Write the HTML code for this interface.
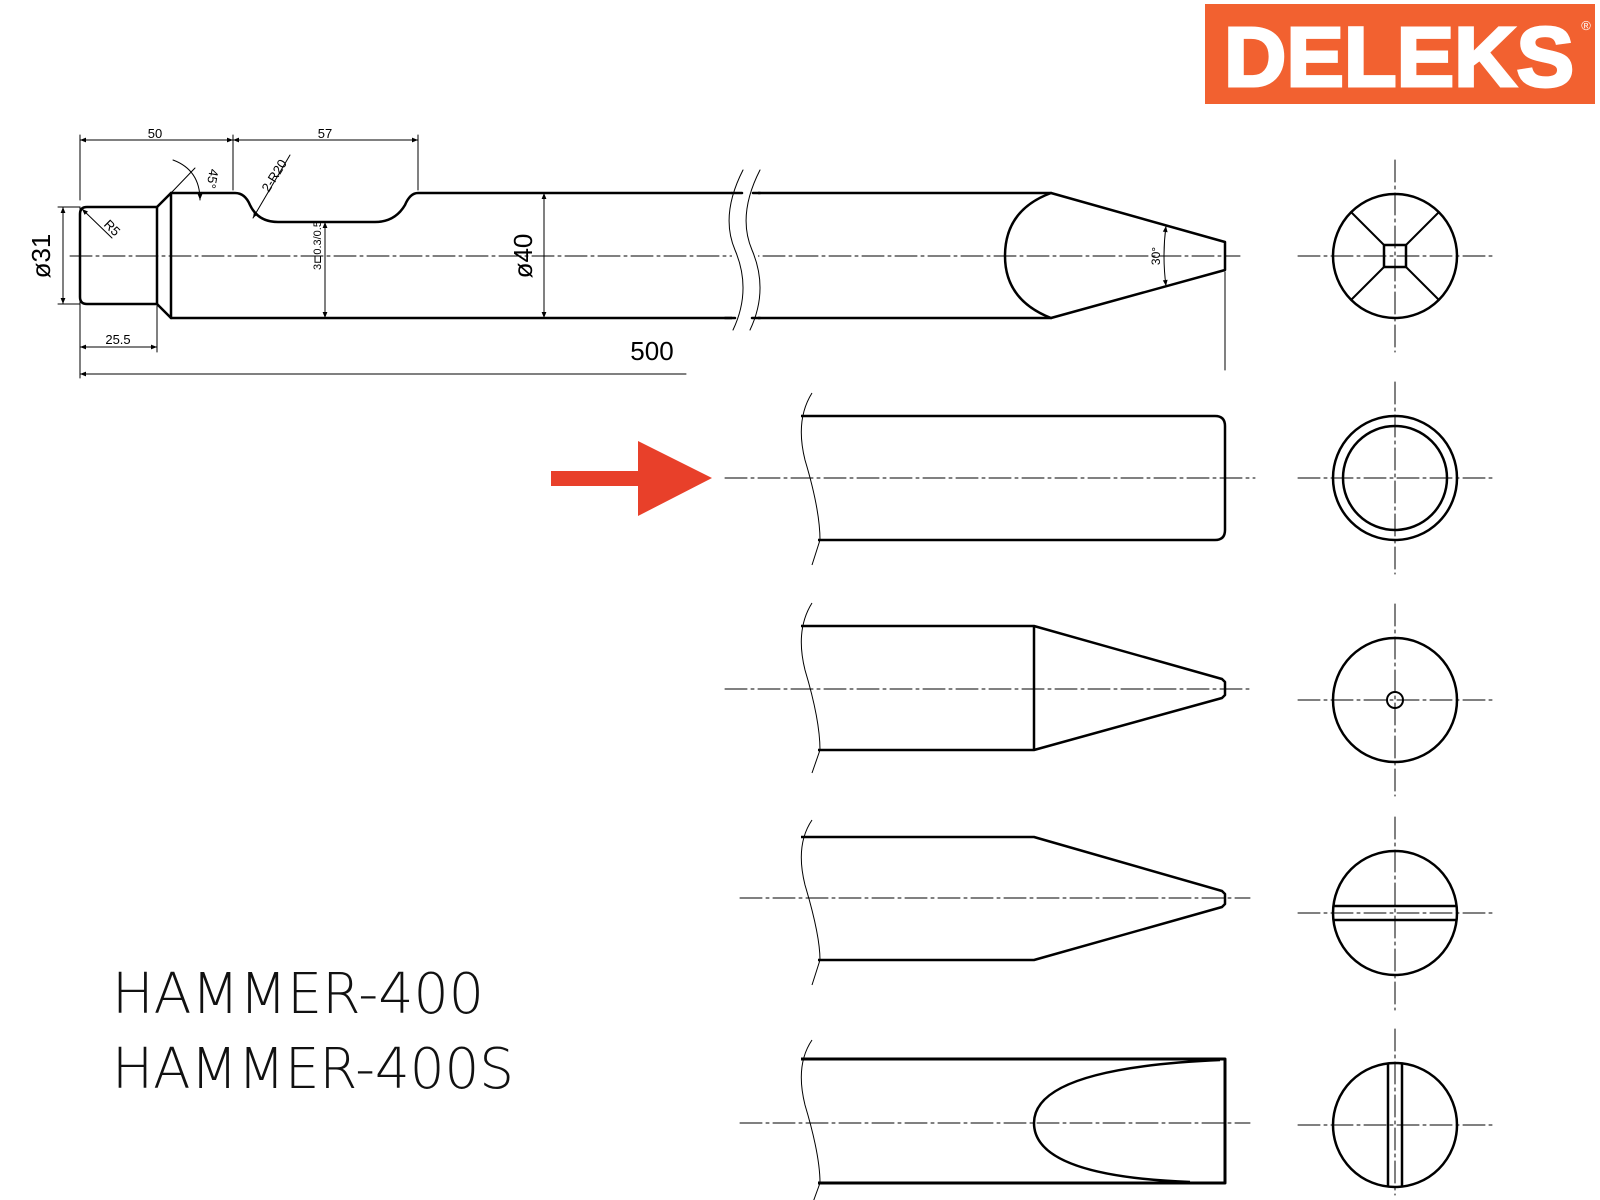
<!DOCTYPE html>
<html><head><meta charset="utf-8"><style>
html,body{margin:0;padding:0;background:#fff;width:1600px;height:1200px;overflow:hidden}
svg{display:block}
</style></head><body>
<svg width="1600" height="1200" viewBox="0 0 1600 1200" xmlns="http://www.w3.org/2000/svg" font-family="Liberation Sans, sans-serif">
<defs>
<marker id="ar" viewBox="0 0 10 10" refX="10" refY="5" markerWidth="10" markerHeight="6" orient="auto-start-reverse" markerUnits="userSpaceOnUse"><path d="M0,1 L10,5 L0,9 z" fill="#000"/></marker>
</defs>
<!-- Logo -->
<rect x="1205" y="4" width="390" height="100" fill="#f26130"/>
<text x="1224" y="86" font-size="84" font-weight="bold" fill="#fff" stroke="#fff" stroke-width="3" font-family="Liberation Sans, sans-serif" textLength="350" lengthAdjust="spacingAndGlyphs">DELEKS</text>
<text x="1586" y="30" text-anchor="middle" font-size="13" fill="#fff">®</text>

<g stroke="#000" fill="none" stroke-linecap="round" stroke-linejoin="round">
<!-- center lines -->
<g stroke-width="1" stroke-dasharray="22,4,3,4">
<line x1="70" y1="256" x2="1240" y2="256"/>
<line x1="725" y1="478" x2="1255" y2="478"/>
<line x1="725" y1="689" x2="1250" y2="689"/>
<line x1="740" y1="898" x2="1250" y2="898"/>
<line x1="740" y1="1123" x2="1250" y2="1123"/>
<line x1="1298" y1="256" x2="1492" y2="256"/><line x1="1395" y1="160" x2="1395" y2="352"/>
<line x1="1298" y1="478" x2="1492" y2="478"/><line x1="1395" y1="382" x2="1395" y2="574"/>
<line x1="1298" y1="700" x2="1492" y2="700"/><line x1="1395" y1="604" x2="1395" y2="796"/>
<line x1="1298" y1="913" x2="1492" y2="913"/><line x1="1395" y1="817" x2="1395" y2="1010"/>
<line x1="1298" y1="1125" x2="1492" y2="1125"/><line x1="1395" y1="1029" x2="1395" y2="1195"/>
</g>

<!-- top main drawing -->
<g stroke-width="2.5">
<path d="M87,207 L157,207 L157,304 L87,304 Q80,304 80,297 L80,214 Q80,207 87,207 Z"/>
<path d="M157,207 L171,193 L171,318 L157,304"/>
<path d="M171,193 L235,193 Q245,193 250,205 Q258,222 278,222 L375,222 Q395,222 405,205 Q410,193 418,193 L1051,193 L1225,242 L1225,270 L1051,318 L171,318"/>
<path d="M1051,193 Q1005,210 1005,256 Q1005,300 1051,318"/>
</g>
<!-- break in top -->
<rect x="732" y="185" width="26" height="140" fill="#fff" stroke="none"/>
<path d="M743,170 Q720,215 735,250 Q752,290 733,330" stroke-width="1"/>
<path d="M760,170 Q737,215 752,250 Q769,290 750,330" stroke-width="1"/>
<line x1="732" y1="193" x2="742" y2="193" stroke-width="2.5"/><line x1="753" y1="193" x2="760" y2="193" stroke-width="2.5"/>
<line x1="725" y1="318" x2="735" y2="318" stroke-width="2.5"/><line x1="752" y1="318" x2="760" y2="318" stroke-width="2.5"/>

<!-- dimensions -->
<g stroke-width="1">
<line x1="80" y1="207" x2="80" y2="378"/>
<line x1="80" y1="200" x2="80" y2="135"/>
<line x1="233" y1="190" x2="233" y2="135"/>
<line x1="418" y1="190" x2="418" y2="135"/>
<line x1="157" y1="306" x2="157" y2="352"/>
<line x1="1225" y1="272" x2="1225" y2="370"/>
<line x1="80" y1="140" x2="233" y2="140" marker-start="url(#ar)" marker-end="url(#ar)"/>
<line x1="233" y1="140" x2="418" y2="140" marker-start="url(#ar)" marker-end="url(#ar)"/>
<line x1="80" y1="347" x2="157" y2="347" marker-start="url(#ar)" marker-end="url(#ar)"/>
<line x1="80" y1="374" x2="686" y2="374" marker-start="url(#ar)"/>
<line x1="58" y1="207" x2="80" y2="207"/><line x1="58" y1="304" x2="80" y2="304"/>
<line x1="63" y1="207" x2="63" y2="304" marker-start="url(#ar)" marker-end="url(#ar)"/>
<line x1="325" y1="222" x2="325" y2="318" marker-start="url(#ar)" marker-end="url(#ar)"/>
<line x1="544" y1="193" x2="544" y2="318" marker-start="url(#ar)" marker-end="url(#ar)"/>
<line x1="82" y1="209" x2="112" y2="238" marker-start="url(#ar)"/>
<line x1="253" y1="218" x2="290" y2="155" marker-start="url(#ar)"/>
<line x1="171" y1="193" x2="195" y2="168"/>
<path d="M173,160 Q200,170 200,200" marker-end="url(#ar)"/>
<path d="M1166,226 Q1162,256 1166,286" marker-start="url(#ar)" marker-end="url(#ar)"/>
</g>
</g>
<g font-size="13" fill="#000">
<text x="155" y="138" text-anchor="middle">50</text>
<text x="325" y="138" text-anchor="middle">57</text>
<text x="118" y="344" text-anchor="middle">25.5</text>
<text x="652" y="360" text-anchor="middle" font-size="26">500</text>
<text transform="translate(50,256) rotate(-90)" text-anchor="middle" font-size="26">ø31</text>
<text transform="translate(532,256) rotate(-90)" text-anchor="middle" font-size="26">ø40</text>
<text transform="translate(109,231) rotate(45)" text-anchor="middle" font-size="13">R5</text>
<text transform="translate(278,178) rotate(-58)" text-anchor="middle" font-size="13">2-R20</text>
<text transform="translate(208,178) rotate(100)" text-anchor="middle" font-size="13">45°</text>
<text transform="translate(321,270) rotate(-90)" font-size="11">3⊏0.3/0.5</text>
<text transform="translate(1160,256) rotate(-90)" text-anchor="middle" font-size="12">30°</text>
</g>

<!-- red arrow -->
<path d="M551,471 L638,471 L638,441 L712,478 L638,516 L638,486 L551,486 Z" fill="#e8402a"/>

<g stroke="#000" fill="none" stroke-linejoin="round">
<!-- row 2 -->
<path d="M801,416 L1215,416 Q1225,416 1225,426 L1225,530 Q1225,540 1215,540 L818,540" stroke-width="2.5"/>
<path d="M812,393 Q795,420 805,460 Q820,510 820,540 L812,565" stroke-width="1"/>
<!-- row 3 -->
<path d="M801,626 L1034,626 L1034,750 L818,750 M1034,626 L1222,679 L1225,682 L1225,695 L1222,698 L1034,750" stroke-width="2.5"/>
<path d="M812,603 Q795,630 805,670 Q820,720 820,750 L812,773" stroke-width="1"/>
<!-- row 4 -->
<path d="M801,837 L1034,837 L1222,891 L1225,894 L1225,904 L1222,907 L1034,960 L818,960" stroke-width="2.5"/>
<path d="M812,820 Q795,845 805,885 Q820,935 820,960 L812,985" stroke-width="1"/>
<!-- row 5 -->
<path d="M801,1059 L1225,1059 L1225,1183 L818,1183" stroke-width="3"/>
<path d="M1220,1060 Q1034,1068 1034,1123 Q1034,1176 1190,1182" stroke-width="2.5"/>
<path d="M812,1040 Q795,1065 805,1105 Q820,1155 820,1183 L812,1205" stroke-width="1"/>

<!-- circles -->
<g stroke-width="2.5">
<circle cx="1395" cy="256" r="62"/>
<rect x="1384" y="245" width="22" height="22"/>
<path d="M1384,245 L1351,212 M1406,245 L1439,212 M1384,267 L1351,300 M1406,267 L1439,300" stroke-width="2"/>
<circle cx="1395" cy="478" r="62"/>
<circle cx="1395" cy="478" r="52"/>
<circle cx="1395" cy="700" r="62"/>
<circle cx="1395" cy="700" r="8" stroke-width="2"/>
<circle cx="1395" cy="913" r="62"/>
<line x1="1334" y1="906" x2="1456" y2="906"/><line x1="1334" y1="920" x2="1456" y2="920"/>
<circle cx="1395" cy="1125" r="62"/>
<line x1="1388" y1="1064" x2="1388" y2="1187"/><line x1="1402" y1="1064" x2="1402" y2="1187"/>
</g>
</g>

<text x="112" y="1013" font-size="56" fill="#111" font-family="DejaVu Sans, sans-serif" font-weight="200" textLength="372" lengthAdjust="spacingAndGlyphs">HAMMER-400</text>
<text x="112" y="1088" font-size="56" fill="#111" font-family="DejaVu Sans, sans-serif" font-weight="200" textLength="402" lengthAdjust="spacingAndGlyphs">HAMMER-400S</text>
</svg>
</body></html>
